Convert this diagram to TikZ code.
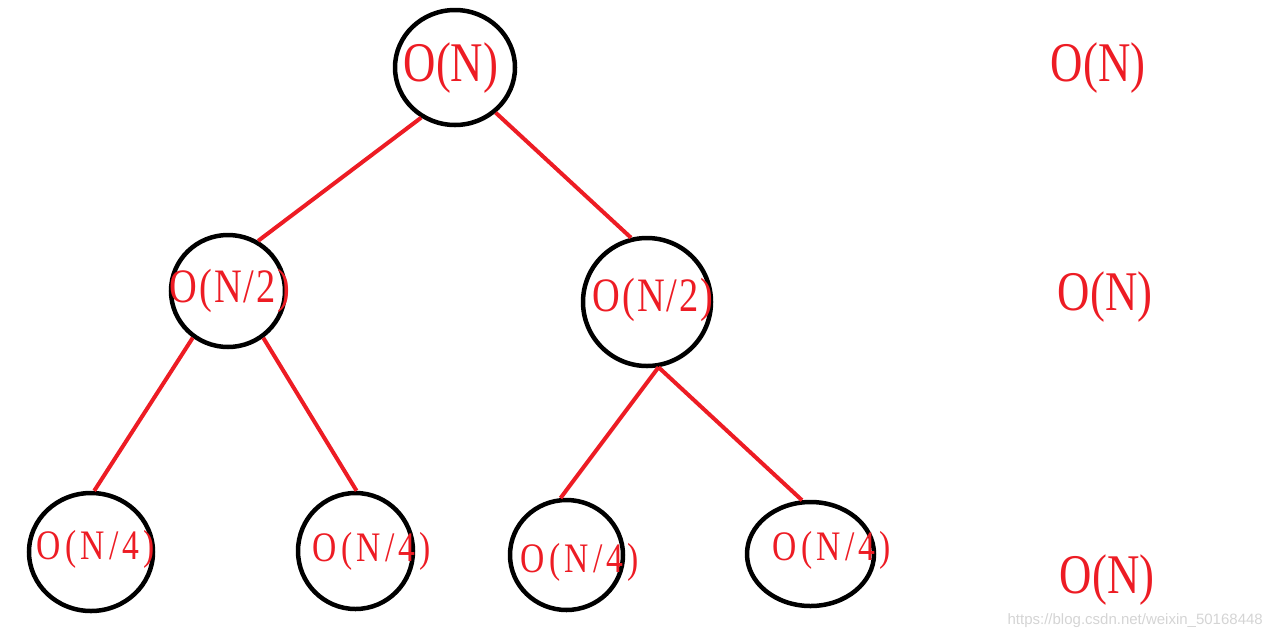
\documentclass[tikz,border=0pt]{standalone}
\usepackage{fontspec}
\usetikzlibrary{shapes.geometric}
\newfontfamily\costfont[FakeStretch=0.8]{Liberation Serif}
\newfontfamily\midfont[FakeStretch=0.8,LetterSpace=4]{Liberation Serif}
\newfontfamily\lowfont[FakeStretch=0.8,LetterSpace=10]{Liberation Serif}
\definecolor{treered}{RGB}{237,28,36}
\definecolor{markgray}{RGB}{212,212,212}
\tikzset{
  bubble/.style={draw=black,line width=4.5pt,ellipse,inner sep=0pt},
  branch/.style={draw=treered,line width=4pt},
  cost/.style={text=treered,inner sep=0pt,font=\costfont\fontsize{56}{56}\selectfont},
  halfcost/.style={text=treered,inner sep=0pt,font=\midfont\fontsize{48}{48}\selectfont},
  quartercost/.style={text=treered,inner sep=0pt,font=\lowfont\fontsize{42}{42}\selectfont},
}
\begin{document}
\begin{tikzpicture}[x=1pt,y=-1pt]
\useasboundingbox (0,0) rectangle (1272,641);
% tree of subproblems
\node[bubble,minimum width=120pt,minimum height=115pt] (root) at (455,67.5) {};
\node[bubble,minimum width=114pt,minimum height=112pt] (left) at (228,291) {};
\node[bubble,minimum width=128pt,minimum height=128pt] (right) at (647,302) {};
\node[bubble,minimum width=124pt,minimum height=118pt] (ll) at (91,552) {};
\node[bubble,minimum width=115pt,minimum height=116pt] (lr) at (355.5,551) {};
\node[bubble,minimum width=113pt,minimum height=110pt] (rl) at (566.5,555) {};
\node[bubble,minimum width=127pt,minimum height=104pt] (rr) at (810.5,554) {};
\node[cost] (troot) at (451,68) {O(N)};
\node[halfcost] (tleft) at (230,291) {O(N/2)};
\node[halfcost] (tright) at (653,300) {O(N/2)};
\node[quartercost] (tll) at (96,549) {O(N/4)};
\node[quartercost] (tlr) at (372,551) {O(N/4)};
\node[quartercost] (trl) at (580,562) {O(N/4)};
\node[quartercost] (trr) at (832,550) {O(N/4)};
\draw[branch] (root.-124) -- (left.59);
\draw[branch] (root.-48) -- (right.104);
\draw[branch] (left.-127) -- (ll.87);
\draw[branch] (left.-53) -- (lr.89);
\draw[branch] (right.-80) -- (rl.96);
\draw[branch] (right.-80) -- (rr.99);
% cost per level
\node[cost] (lvlone) at (1098,68) {O(N)};
\node[cost] (lvltwo) at (1105,297) {O(N)};
\node[cost] (lvlthree) at (1107,580) {O(N)};
\node[text=markgray,anchor=east,inner sep=0pt,font=\fontspec{Liberation Sans}\fontsize{15}{15}\selectfont] (mark) at (1263,621) {https://blog.csdn.net/weixin\_50168448};
\end{tikzpicture}
\end{document}
